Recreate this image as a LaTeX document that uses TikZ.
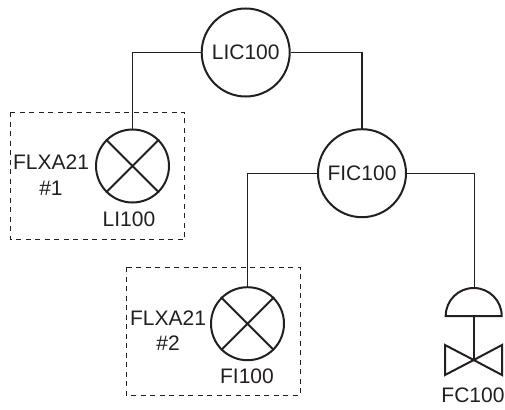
\documentclass[tikz,border=0pt]{standalone}
\usepackage{fontspec}
\setmainfont{Liberation Sans}
\begin{document}
\begin{tikzpicture}[x=1pt,y=-1pt,
  inst/.style={circle,draw=ink,line width=2pt,inner sep=0pt,text=ink,font=\fontsize{21}{24}\selectfont},
  bigc/.style={inst,minimum size=88pt},
  smallc/.style={inst,minimum size=73pt},
  lbl/.style={inner sep=0pt,text=ink,font=\fontsize{21}{24}\selectfont},
  wire/.style={draw=ink,line width=1.2pt},
  boxd/.style={draw=ink,line width=1pt,dash pattern=on 5pt off 4.5pt},
  sym/.style={draw=ink,line width=2pt,line join=miter}]
\definecolor{ink}{HTML}{231F20}
\useasboundingbox (0,0) rectangle (505,409);
\draw[boxd] (10.5,112) rectangle (184.5,239.5);
\draw[boxd] (126,267) rectangle (300,395);
\node[bigc] (lic) at (245.7,52.5) {LIC100};
\node[bigc] (fic) at (362,173.2) {FIC100};
\node[smallc] (li) at (132.5,166) {};
\node[smallc] (fi) at (247.5,323.7) {};
\draw[sym] (li.45) -- (li.225) (li.135) -- (li.315);
\draw[sym] (fi.45) -- (fi.225) (fi.135) -- (fi.315);
\coordinate (acttop) at (474.7,288);
\coordinate (actl) at (445.7,316);
\coordinate (actr) at (501.7,316);
\coordinate (vc) at (473.7,360);
\draw[sym] (actl) arc[start angle=180,end angle=360,radius=28] -- cycle;
\draw[sym] (473.7,316) -- (vc);
\draw[sym] (vc) -- (445,345) -- (445,375) -- cycle;
\draw[sym] (vc) -- (502,345) -- (502,375) -- cycle;
\draw[wire] (lic.west) -| (li.north);
\draw[wire] (lic.east) -| (fic.north);
\draw[wire] (fic.west) -| (fi.north);
\draw[wire] (fic.east) -| (acttop);
\node[lbl] (t1) at (51,162.5) {FLXA21};
\node[lbl] (t2) at (51,188.5) {\#1};
\node[lbl] (t3) at (129,219.5) {LI100};
\node[lbl] (t4) at (168,318.5) {FLXA21};
\node[lbl] (t5) at (168,343.5) {\#2};
\node[lbl] (t6) at (247,376.5) {FI100};
\node[lbl] (t7) at (473,395.5) {FC100};
\end{tikzpicture}
\end{document}
